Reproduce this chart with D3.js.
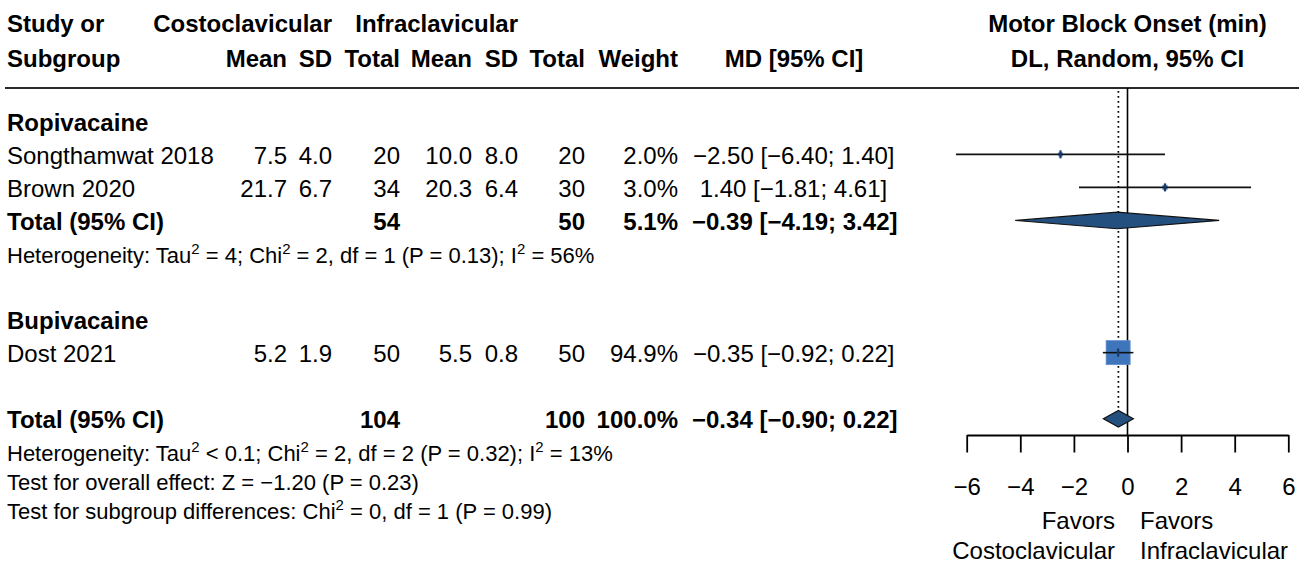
<!DOCTYPE html>
<html><head><meta charset="utf-8">
<script src="https://cdn.jsdelivr.net/npm/d3@7"></script>
<style>
body{margin:0;background:#fff}
text{font-family:"Liberation Sans",Arial,Helvetica,sans-serif;white-space:pre;fill:#000}
</style>
</head><body>
<svg id="c" width="1307" height="564"></svg>
<script>
// ---------------- data ----------------
const studies   = ["Songthamwat 2018", "Brown 2020", "Dost 2021"];
const studyGrp  = ["Ropivacaine", "Ropivacaine", "Bupivacaine"];
const costMean  = [7.5, 21.7, 5.2];
const costSD    = [4.0, 6.7, 1.9];
const costN     = [20, 34, 50];
const infMean   = [10.0, 20.3, 5.5];
const infSD     = [8.0, 6.4, 0.8];
const infN      = [20, 30, 50];
const weights   = [2.0, 3.0, 94.9];
const md        = [-2.50, 1.40, -0.35];
const mdLo      = [-6.40, -1.81, -0.92];
const mdHi      = [1.40, 4.61, 0.22];

const groups      = ["Ropivacaine", "Bupivacaine"];
const subLabel    = ["Total (95% CI)"];        // subtotal only for Ropivacaine
const subCostN    = [54];
const subInfN     = [50];
const subWeight   = [5.1];
const subMD       = [-0.39];
const subLo       = [-4.19];
const subHi       = [3.42];
const subHet      = [["Heterogeneity: Tau", {s:"2"}, " = 4; Chi", {s:"2"}, " = 2, df = 1 (P = 0.13); I", {s:"2"}, " = 56%"]];

const totLabel  = "Total (95% CI)";
const totCostN  = 104;
const totInfN   = 100;
const totWeight = 100.0;
const totMD     = -0.34;
const totLo     = -0.90;
const totHi     = 0.22;
const totHet    = ["Heterogeneity: Tau", {s:"2"}, " < 0.1; Chi", {s:"2"}, " = 2, df = 2 (P = 0.32); I", {s:"2"}, " = 13%"];
const testOverall  = ["Test for overall effect: Z = \u22121.20 (P = 0.23)"];
const testSubgroup = ["Test for subgroup differences: Chi", {s:"2"}, " = 0, df = 1 (P = 0.99)"];

const xTicks = [-6, -4, -2, 0, 2, 4, 6];
const favLeft  = ["Favors", "Costoclavicular"];
const favRight = ["Favors", "Infraclavicular"];
const plotTitle = ["Motor Block Onset (min)", "DL, Random, 95% CI"];

// ---------------- layout ----------------
const svg = d3.select("#c");
const x = d3.scaleLinear().domain([-6, 6]).range([966.7, 1288.3]);
const rowY = d3.scaleLinear().domain([0, 10]).range([122.5, 453]);
const FS = 24, FSS = 22;
const col = {label: 7, cMean: 287, cSD: 332, cN: 400, iMean: 472, iSD: 518, iN: 585, w: 678, md: 693, mdMid: 794};
const f1 = d3.format(".1f"), f2 = d3.format(".2f");
const mdStr = (m, l, h) => (m >= 0 ? " " : "") + `${f2(m)} [${f2(l)}; ${f2(h)}]`;

function txt(xp, y, s, opt = {}) {
  const t = svg.append("text").attr("x", xp).attr("y", y)
    .attr("font-size", opt.fs || FS)
    .attr("font-weight", opt.bold ? "bold" : "normal")
    .attr("text-anchor", opt.anchor || "start");
  if (typeof s === "string") { t.text(s); return t; }
  const fs = opt.fs || FS;
  const shift = fs * 0.4;
  let pending = 0;
  s.forEach(seg => {
    if (typeof seg === "string") {
      const sp = t.append("tspan").text(seg);
      if (pending) { sp.attr("dy", pending); pending = 0; }
    } else {
      t.append("tspan").attr("dy", -shift).attr("font-size", fs * 0.68).text(seg.s);
      pending = shift;
    }
  });
  return t;
}
const base = (y, fs) => y + (fs || FS) * 0.355;

// header
const hb1 = 32, hb2 = 67;
txt(col.label, hb1, "Study or", {bold: true});
txt(col.cSD, hb1, "Costoclavicular", {bold: true, anchor: "end"});
txt(col.iSD, hb1, "Infraclavicular", {bold: true, anchor: "end"});
txt(x(0), hb1, plotTitle[0], {bold: true, anchor: "middle"});
txt(col.label, hb2, "Subgroup", {bold: true});
[["Mean", col.cMean], ["SD", col.cSD], ["Total", col.cN], ["Mean", col.iMean], ["SD", col.iSD], ["Total", col.iN], ["Weight", col.w]]
  .forEach(([s, xp]) => txt(xp, hb2, s, {bold: true, anchor: "end"}));
txt(col.mdMid, hb2, "MD [95% CI]", {bold: true, anchor: "middle"});
txt(x(0), hb2, plotTitle[1], {bold: true, anchor: "middle"});

svg.append("line").attr("x1", 5).attr("x2", 1299).attr("y1", 88).attr("y2", 88)
  .attr("stroke", "#2a2a2a").attr("stroke-width", 2.2);

// rows
const rows = [
  {r: 0, type: "group", g: 0},
  {r: 1, type: "study", i: 0},
  {r: 2, type: "study", i: 1},
  {r: 3, type: "sub", j: 0},
  {r: 4, type: "het", j: 0},
  {r: 6, type: "group", g: 1},
  {r: 7, type: "study", i: 2},
  {r: 9, type: "total"},
  {r: 10, type: "tothet"}
];

// reference lines (drawn first)
const lineTop = 88, axisY = 435;
svg.append("line").attr("x1", x(0)).attr("x2", x(0)).attr("y1", lineTop).attr("y2", axisY)
  .attr("stroke", "#000").attr("stroke-width", 1.6);
const dH = 8.3;
svg.append("line").attr("x1", x(totMD)).attr("x2", x(totMD)).attr("y1", 91).attr("y2", rowY(9) - 1.2 - dH)
  .attr("stroke", "#000").attr("stroke-width", 1.7).attr("stroke-dasharray", "1.7,3.3");

const sqMax = 24, wMax = 94.9;
rows.forEach(row => {
  const yc = rowY(row.r);
  const yb = base(yc);
  const ym = yc - 1.2;
  if (row.type === "group") {
    txt(col.label, yb, groups[row.g], {bold: true});
  } else if (row.type === "study") {
    const i = row.i;
    txt(col.label, yb, studies[i]);
    txt(col.cMean, yb, f1(costMean[i]), {anchor: "end"});
    txt(col.cSD, yb, f1(costSD[i]), {anchor: "end"});
    txt(col.cN, yb, String(costN[i]), {anchor: "end"});
    txt(col.iMean, yb, f1(infMean[i]), {anchor: "end"});
    txt(col.iSD, yb, f1(infSD[i]), {anchor: "end"});
    txt(col.iN, yb, String(infN[i]), {anchor: "end"});
    txt(col.w, yb, f1(weights[i]) + "%", {anchor: "end"});
    txt(col.md, yb, mdStr(md[i], mdLo[i], mdHi[i]));
    const side = sqMax * Math.sqrt(weights[i] / wMax);
    svg.append("rect").attr("x", x(md[i]) - side / 2).attr("y", ym - side / 2)
      .attr("width", side).attr("height", side)
      .attr("fill", "#3f76bb").attr("stroke", "#5b8dcc").attr("stroke-width", 0.8);
    svg.append("line").attr("x1", x(mdLo[i])).attr("x2", x(mdHi[i])).attr("y1", ym).attr("y2", ym)
      .attr("stroke", "#111").attr("stroke-width", 1.6);
    svg.append("line").attr("x1", x(md[i])).attr("x2", x(md[i])).attr("y1", ym - 4).attr("y2", ym + 4)
      .attr("stroke", "#173a66").attr("stroke-width", 2.2);
  } else if (row.type === "sub") {
    const j = row.j;
    txt(col.label, yb, subLabel[j], {bold: true});
    txt(col.cN, yb, String(subCostN[j]), {bold: true, anchor: "end"});
    txt(col.iN, yb, String(subInfN[j]), {bold: true, anchor: "end"});
    txt(col.w, yb, f1(subWeight[j]) + "%", {bold: true, anchor: "end"});
    txt(col.md - 1, yb, mdStr(subMD[j], subLo[j], subHi[j]), {bold: true});
    const pts = [[x(subLo[j]), ym], [x(subMD[j]), ym - dH], [x(subHi[j]), ym], [x(subMD[j]), ym + dH]];
    svg.append("path").attr("d", d3.line()(pts) + "Z")
      .attr("fill", "#24507f").attr("stroke", "#111").attr("stroke-width", 1.2);
  } else if (row.type === "het") {
    txt(col.label, base(yc, FSS), subHet[row.j], {fs: FSS});
  } else if (row.type === "total") {
    txt(col.label, yb, totLabel, {bold: true});
    txt(col.cN, yb, String(totCostN), {bold: true, anchor: "end"});
    txt(col.iN, yb, String(totInfN), {bold: true, anchor: "end"});
    txt(col.w, yb, f1(totWeight) + "%", {bold: true, anchor: "end"});
    txt(col.md - 1, yb, mdStr(totMD, totLo, totHi), {bold: true});
    const pts = [[x(totLo), ym], [x(totMD), ym - dH], [x(totHi), ym], [x(totMD), ym + dH]];
    svg.append("path").attr("d", d3.line()(pts) + "Z")
      .attr("fill", "#24507f").attr("stroke", "#111").attr("stroke-width", 1.2);
  } else if (row.type === "tothet") {
    txt(col.label, base(yc, FSS), totHet, {fs: FSS});
  }
});
txt(col.label, base(482, FSS), testOverall, {fs: FSS});
txt(col.label, base(511, FSS), testSubgroup, {fs: FSS});

// axis
const ax = svg.append("g").attr("transform", `translate(0,${axisY})`)
  .call(d3.axisBottom(x).tickValues(xTicks).tickSize(17.5).tickSizeOuter(0).tickPadding(25).tickFormat(d3.format("d")));
ax.attr("font-size", null).attr("font-family", null);
ax.selectAll("path,line").attr("stroke", "#000").attr("stroke-width", 1.8);
ax.selectAll("text").attr("font-size", FS).attr("fill", "#000");

// favours labels
txt(x(0) - 12.5, base(520), favLeft[0], {anchor: "end"});
txt(x(0) - 12.5, base(550), favLeft[1], {anchor: "end"});
txt(x(0) + 12.5, base(520), favRight[0]);
txt(x(0) + 12.5, base(550), favRight[1]);
</script>
</body></html>
